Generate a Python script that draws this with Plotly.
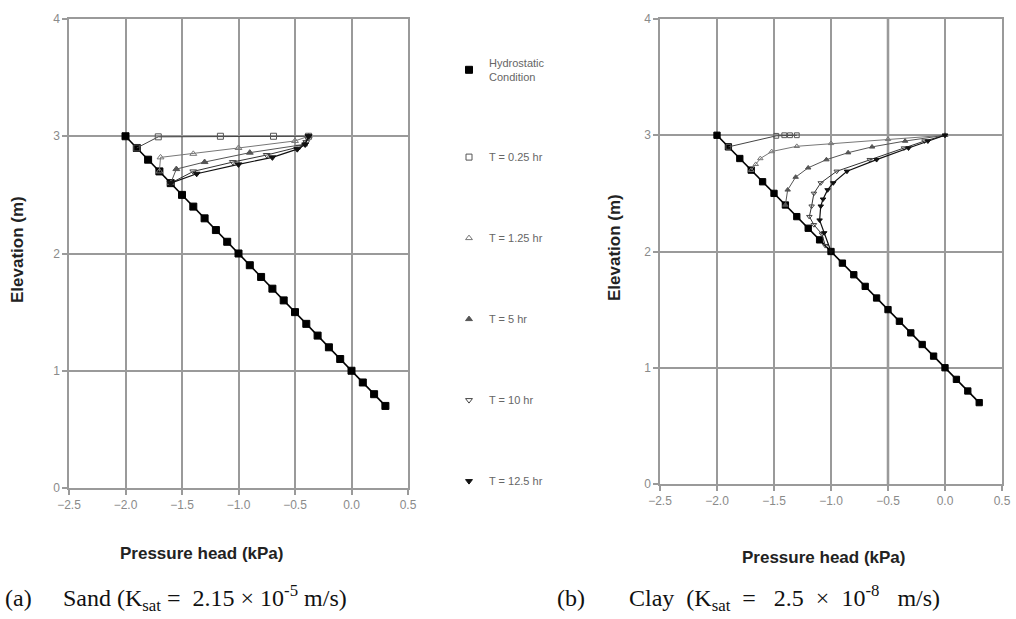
import plotly.graph_objects as go

W, H = 1016, 619

# ---------------- data ----------------
hydro_z = [3.0, 2.9, 2.8, 2.7, 2.6, 2.5, 2.4, 2.3, 2.2, 2.1, 2.0, 1.9, 1.8, 1.7,
           1.6, 1.5, 1.4, 1.3, 1.2, 1.1, 1.0, 0.9, 0.8, 0.7]
hydro_p = [-2.0, -1.9, -1.8, -1.7, -1.6, -1.5, -1.4, -1.3, -1.2, -1.1, -1.0, -0.9,
           -0.8, -0.7, -0.6, -0.5, -0.4, -0.3, -0.2, -0.1, 0.0, 0.1, 0.2, 0.3]

# Sand (a)
sand_t025_p = [-0.38, -0.69, -1.16, -1.71, -1.9]
sand_t025_z = [3.0, 3.0, 3.0, 2.995, 2.9]
sand_t125_p = [-0.38, -0.5, -1.0, -1.4, -1.69, -1.7]
sand_t125_z = [3.0, 2.96, 2.9, 2.85, 2.82, 2.7]
sand_t5_p = [-0.38, -0.42, -0.9, -1.3, -1.55, -1.6]
sand_t5_z = [3.0, 2.93, 2.86, 2.78, 2.72, 2.6]
sand_t10_p = [-0.38, -0.40, -0.46, -0.75, -1.05, -1.4, -1.6]
sand_t10_z = [3.0, 2.95, 2.91, 2.84, 2.78, 2.70, 2.6]
sand_t125b_p = [-0.38, -0.41, -0.48, -0.7, -1.0, -1.37, -1.6]
sand_t125b_z = [3.0, 2.93, 2.89, 2.82, 2.76, 2.68, 2.6]

# Clay (b)
clay_t025_p = [-1.30, -1.36, -1.41, -1.48, -1.9]
clay_t025_z = [3.0, 3.0, 3.0, 2.995, 2.9]
clay_t125_p = [0.0, -0.5, -1.0, -1.3, -1.52, -1.62, -1.66, -1.7]
clay_t125_z = [3.0, 2.965, 2.93, 2.905, 2.86, 2.8, 2.75, 2.7]
clay_t5_p = [0.0, -0.35, -0.64, -0.85, -1.04, -1.2, -1.31, -1.38, -1.4]
clay_t5_z = [3.0, 2.95, 2.9, 2.85, 2.79, 2.72, 2.64, 2.53, 2.4]
clay_t10_p = [0.0, -0.18, -0.36, -0.66, -0.95, -1.09, -1.15, -1.17, -1.19, -1.15, -1.08, -1.05]
clay_t10_z = [3.0, 2.95, 2.89, 2.79, 2.69, 2.59, 2.5, 2.39, 2.3, 2.23, 2.15, 2.05]
clay_t125b_p = [0.0, -0.15, -0.32, -0.6, -0.86, -0.98, -1.03, -1.07, -1.09, -1.10, -1.06, -1.0]
clay_t125b_z = [3.0, 2.95, 2.89, 2.79, 2.69, 2.59, 2.53, 2.45, 2.39, 2.27, 2.16, 2.0]

legend_names = ["Hydrostatic<br>Condition", "T = 0.25 hr", "T = 1.25 hr",
                "T = 5 hr", "T = 10 hr", "T = 12.5 hr"]
x_ticks = [-2.5, -2.0, -1.5, -1.0, -0.5, 0.0, 0.5]
y_ticks = [0, 1, 2, 3, 4]

# ---------------- styles ----------------
styles = [
    dict(symbol="square", size=7, color="#000000", line="#000000", lw=1.6),
    dict(symbol="square-open", size=6, color="#555555", line="#444444", lw=1.0),
    dict(symbol="triangle-up-open", size=6, color="#777777", line="#777777", lw=1.0),
    dict(symbol="triangle-up", size=6, color="#555555", line="#555555", lw=1.0),
    dict(symbol="triangle-down-open", size=6, color="#444444", line="#333333", lw=1.0),
    dict(symbol="triangle-down", size=6, color="#111111", line="#111111", lw=1.2),
]

sand = [(hydro_p, hydro_z), (sand_t025_p, sand_t025_z), (sand_t125_p, sand_t125_z),
        (sand_t5_p, sand_t5_z), (sand_t10_p, sand_t10_z), (sand_t125b_p, sand_t125b_z)]
clay = [(hydro_p, hydro_z), (clay_t025_p, clay_t025_z), (clay_t125_p, clay_t125_z),
        (clay_t5_p, clay_t5_z), (clay_t10_p, clay_t10_z), (clay_t125b_p, clay_t125b_z)]

fig = go.Figure()

for k, (sets, xa, ya, msz) in enumerate([(sand, "x", "y", 1.0), (clay, "x2", "y2", 0.8)]):
    for i in range(6):
        p, z = sets[i]
        st = styles[i]
        fig.add_trace(go.Scatter(
            x=p, y=z, xaxis=xa, yaxis=ya, mode="lines",
            line=dict(color=st["line"], width=st["lw"]),
            showlegend=False, hoverinfo="skip"))
        size = st["size"] * msz if i > 0 else st["size"] * (1.0 if k == 0 else 0.9)
        fig.add_trace(go.Scatter(
            x=p, y=z, xaxis=xa, yaxis=ya, mode="markers",
            name=legend_names[i], legendgroup="g%d" % i,
            showlegend=(k == 0),
            marker=dict(symbol=st["symbol"], size=size,
                        color=st["color"], line=dict(color=st["color"], width=1)),
        ))

tick_font = dict(family="Liberation Sans, Arial", size=12, color="#8a8a8a")
axis_common = dict(
    range=[-2.5, 0.5], tickvals=x_ticks, tickformat=".1f",
    showgrid=True, gridcolor="#9a9a9a", gridwidth=1.5,
    showline=True, linecolor="#9a9a9a", linewidth=1.5, mirror=True,
    ticks="outside", ticklen=5, tickcolor="#9a9a9a", tickwidth=1.5,
    tickfont=tick_font, automargin=False,
    zeroline=False, fixedrange=True,
)
yaxis_common = dict(
    range=[0, 4], tickvals=y_ticks,
    showgrid=True, gridcolor="#9a9a9a", gridwidth=1.5,
    showline=True, linecolor="#9a9a9a", linewidth=1.5, mirror=True,
    ticks="outside", ticklen=5, tickcolor="#9a9a9a", tickwidth=1.5,
    tickfont=tick_font, automargin=False,
    zeroline=False, fixedrange=True,
)

def fx(px):
    return px / W

def fy(py):
    return 1 - py / H

fig.update_layout(
    width=W, height=H,
    margin=dict(l=0, r=0, t=0, b=0, autoexpand=False),
    paper_bgcolor="white", plot_bgcolor="white",
    xaxis=dict(domain=[fx(69), fx(408)], anchor="y", **axis_common),
    yaxis=dict(domain=[fy(488), fy(19)], anchor="x", **yaxis_common),
    xaxis2=dict(domain=[fx(660), fx(1002)], anchor="y2", **axis_common),
    yaxis2=dict(domain=[fy(484), fy(19)], anchor="x2", **yaxis_common),
    legend=dict(
        x=fx(449), y=fy(49), xanchor="left", yanchor="top",
        bgcolor="rgba(0,0,0,0)", borderwidth=0,
        tracegroupgap=62,
        font=dict(family="Liberation Sans, Arial", size=11, color="#666666"),
        itemclick=False, itemdoubleclick=False,
    ),
    showlegend=True,
)

# lighter, wider grid line in the clay panel
fig.add_shape(type="line", xref="x2", yref="y2", x0=-0.5, x1=-0.5, y0=0, y1=4,
              line=dict(color="#c8c8c8", width=3), layer="below")

NB = "\u00a0"
title_font = dict(family="Liberation Sans, Arial", size=17, color="#222222")
ann = [
    dict(text="<b>Elevation (m)</b>", x=fx(18), y=fy(250), textangle=-90, font=title_font),
    dict(text="<b>Elevation (m)</b>", x=fx(614), y=fy(248), textangle=-90, font=title_font),
    dict(text="<b>Pressure head (kPa)</b>", x=fx(201), y=fy(553), font=title_font),
    dict(text="<b>Pressure head (kPa)</b>", x=fx(823), y=fy(557), font=title_font),
]
cap_font = dict(family="Liberation Serif, Times New Roman, serif", size=24, color="#111111")
caps = [
    dict(text="(a)", x=fx(3), y=fy(598), xanchor="left", font=cap_font),
    dict(text="Sand (K<sub>sat</sub> =" + NB + " 2.15 × 10<sup>-5</sup> m/s)",
         x=fx(61), y=fy(598), xanchor="left", font=cap_font),
    dict(text="(b)", x=fx(555), y=fy(598), xanchor="left", font=cap_font),
    dict(text="Clay" + NB + " (K<sub>sat</sub>" + NB + " =" + NB * 2 + " 2.5" + NB + " ×" + NB +
              " 10<sup>-8</sup>" + NB * 2 + " m/s)",
         x=fx(627), y=fy(598), xanchor="left", font=cap_font),
]
for a in ann + caps:
    a.setdefault("xanchor", "center")
    fig.add_annotation(xref="paper", yref="paper", showarrow=False, yanchor="middle", **a)

fig.write_html("out.html", post_script="document.body.style.margin='0';",
               config={"displayModeBar": False, "staticPlot": False})
